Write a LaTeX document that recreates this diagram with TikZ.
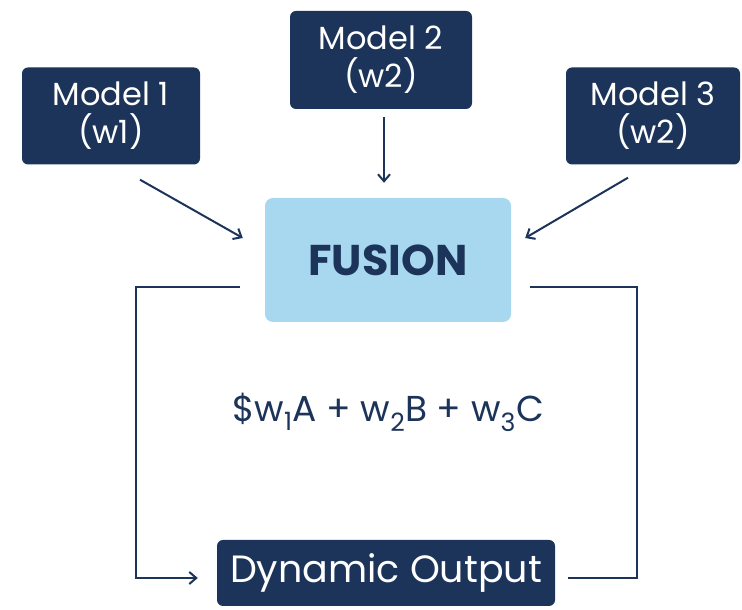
\documentclass[tikz,border=0pt]{standalone}
\usepackage{fontspec}
\setmainfont{Poppins}
\usetikzlibrary{arrows.meta,calc}
\definecolor{navy}{HTML}{1C3459}
\definecolor{lightblue}{HTML}{A8D8F0}
\begin{document}
\begin{tikzpicture}[x=1pt,y=1pt,
  modelbox/.style={fill=navy, rounded corners=6pt, text=white, align=center, inner sep=0pt, font=\fontsize{32}{38}\selectfont},
  conn/.style={draw=navy, line width=2pt, -{Straight Barb[length=7pt,width=12pt,line width=2pt]}},
  plainconn/.style={draw=navy, line width=2pt}]
\useasboundingbox[fill=white] (0,0) rectangle (742,610);
\node[modelbox, minimum width=178pt, minimum height=97pt] (m1) at (111,494) {Model 1\\(w1)};
\node[modelbox, minimum width=182pt, minimum height=98pt] (m2) at (381,550) {Model 2\\(w2)};
\node[modelbox, minimum width=174pt, minimum height=97pt] (m3) at (653,494) {Model 3\\(w2)};
\node[fill=lightblue, rounded corners=8pt, minimum width=246pt, minimum height=124pt, text=navy, font=\fontsize{43}{48}\selectfont\bfseries] (fus) at (388,350) {FUSION};
\node[modelbox, minimum width=338pt, minimum height=66pt, font=\fontsize{38}{44}\selectfont] (out) at (386,37) {Dynamic Output};
\node[text=navy, font=\fontsize{36}{42}\selectfont] (eq) at (388,198) {\$w\textsubscript{1}A + w\textsubscript{2}B + w\textsubscript{3}C};
% arrows into fusion
\coordinate (a1s) at ($(m1.south)+(29,-15)$);
\coordinate (a1e) at ($(fus.west)+(-22,22)$);
\coordinate (a2s) at ($(m2.south)+(3,-8)$);
\coordinate (a2e) at ($(fus.north)+(-4,15)$);
\coordinate (a3s) at ($(m3.south)+(-25,-13)$);
\coordinate (a3e) at ($(fus.east)+(14,22)$);
\draw[conn] (a1s) -- (a1e);
\draw[conn] (a2s) -- (a2e);
\draw[conn] (a3s) -- (a3e);
% feedback loops
\coordinate (l1) at ($(fus.west)+(-25,-27)$);
\coordinate (l2) at (136,323);
\coordinate (l3) at (136,32);
\coordinate (l4) at ($(out.west)+(-19,-5)$);
\draw[conn] (l1) -- (l2) -- (l3) -- (l4);
\coordinate (r1) at ($(fus.east)+(19,-27)$);
\coordinate (r2) at (637,323);
\coordinate (r3) at (637,32);
\coordinate (r4) at ($(out.east)+(13,-5)$);
\draw[plainconn] (r1) -- (r2) -- (r3) -- (r4);
\end{tikzpicture}
\end{document}
